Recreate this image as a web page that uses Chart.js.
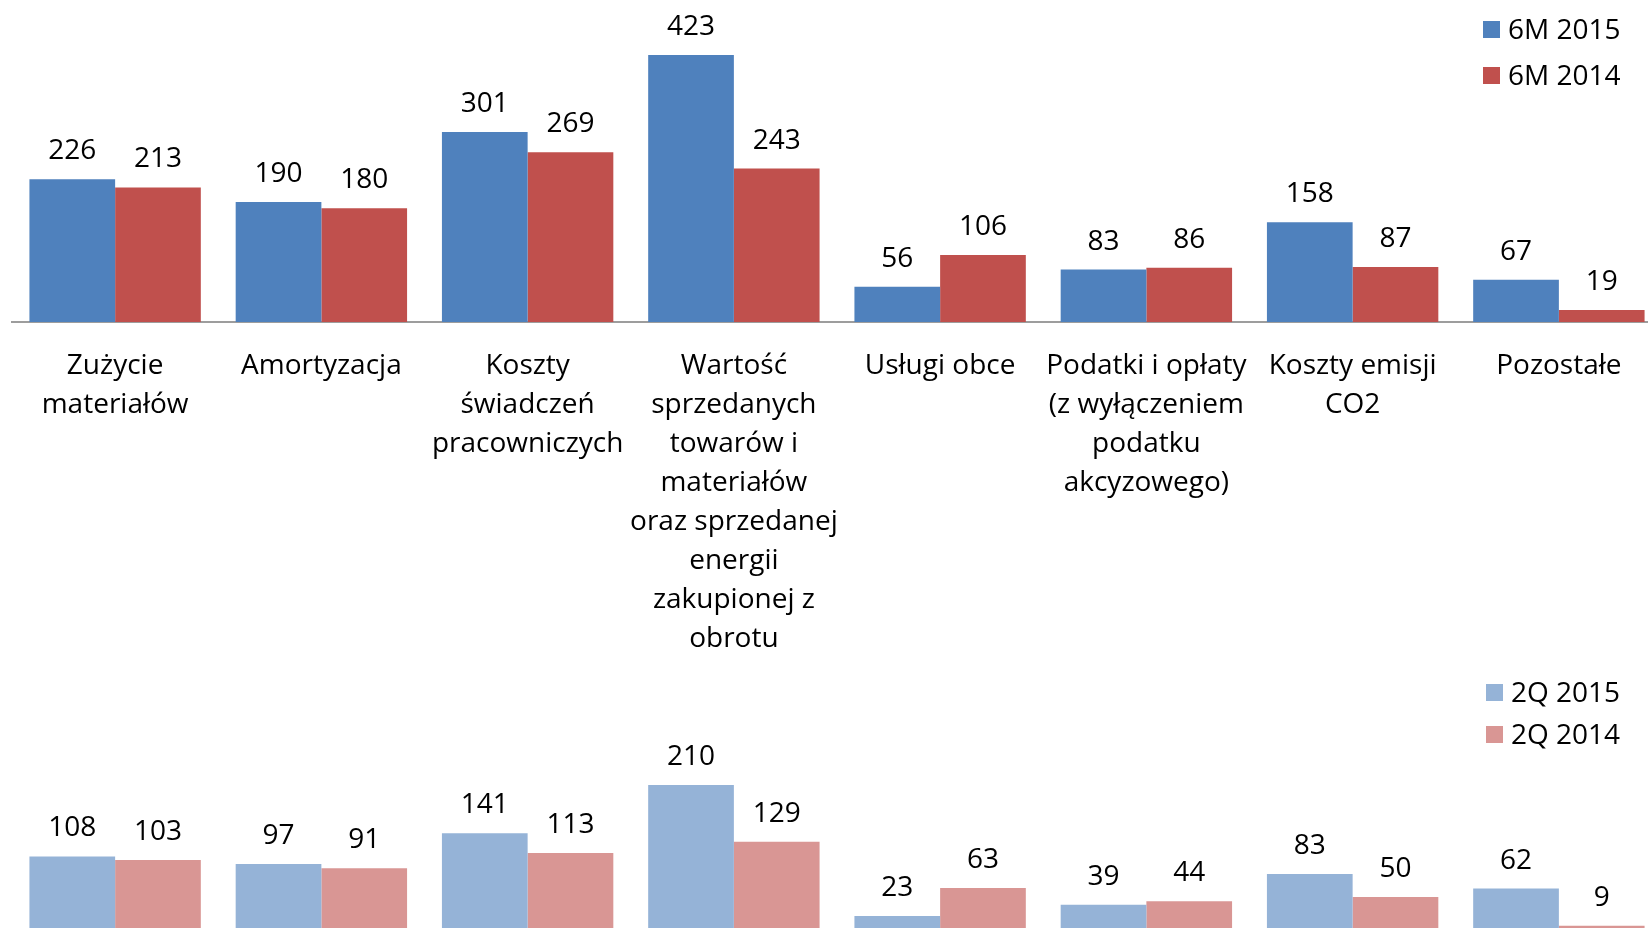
<!DOCTYPE html>
<html lang="pl">
<head>
    <meta charset="UTF-8">
    <title>Koszty</title>
    <script src="https://cdn.jsdelivr.net/npm/chart.js"></script>
    <style>
        body { margin: 0; background: #fff; overflow: hidden; width: 1648px; height: 928px; position: relative; font-family: 'Open Sans', sans-serif; }
        .box { position: absolute; left: 0; }
        .legend { position: absolute; font-size: 28px; color: #000; line-height: 1; }
        .legend div { position: absolute; white-space: nowrap; }
        .legend span { display: inline-block; width: 17px; height: 17px; margin-right: 8px; vertical-align: middle; position: relative; top: -2px; }
    </style>
</head>
<body>
    <div class="box" style="top:0;"><canvas id="top" width="1662" height="680"></canvas></div>
    <div class="box" style="top:650px;"><canvas id="bottom" width="1662" height="282"></canvas></div>

    <!-- legends -->
    <div class="legend" style="left:1483px; top:0;">
        <div style="top:14px;"><span style="background:#4F81BD"></span>6M 2015</div>
        <div style="top:60px;"><span style="background:#C0504D"></span>6M 2014</div>
    </div>
    <div class="legend" style="left:1486px; top:0;">
        <div style="top:677px;"><span style="background:#95B3D7"></span>2Q 2015</div>
        <div style="top:719px;"><span style="background:#D99694"></span>2Q 2014</div>
    </div>

    <script>
        const categories = [
            ['Zużycie', 'materiałów'],
            ['Amortyzacja'],
            ['Koszty', 'świadczeń', 'pracowniczych'],
            ['Wartość', 'sprzedanych', 'towarów i', 'materiałów', 'oraz sprzedanej', 'energii', 'zakupionej z', 'obrotu'],
            ['Usługi obce'],
            ['Podatki i opłaty', '(z wyłączeniem', 'podatku', 'akcyzowego)'],
            ['Koszty emisji', 'CO2'],
            ['Pozostałe']
        ];

        const h1_2015 = [226, 190, 301, 423, 56, 83, 158, 67];
        const h1_2014 = [213, 180, 269, 243, 106, 86, 87, 19];
        const q2_2015 = [108, 97, 141, 210, 23, 39, 83, 62];
        const q2_2014 = [103, 91, 113, 129, 63, 44, 50, 9];

        const font = { family: "'Open Sans', sans-serif", size: 28 };

        // value labels above each bar
        const valueLabels = {
            id: 'valueLabels',
            afterDatasetsDraw(chart) {
                const ctx = chart.ctx;
                ctx.save();
                ctx.font = font.size + 'px ' + font.family;
                ctx.fillStyle = '#000';
                ctx.textAlign = 'center';
                ctx.textBaseline = 'middle';
                chart.data.datasets.forEach((ds, i) => {
                    chart.getDatasetMeta(i).data.forEach((bar, j) => {
                        ctx.fillText(ds.data[j], bar.x, bar.y - 28);
                    });
                });
                ctx.restore();
            }
        };

        // Top chart: 6M
        new Chart(document.getElementById('top'), {
            type: 'bar',
            data: {
                labels: categories,
                datasets: [
                    { label: '6M 2015', data: h1_2015, backgroundColor: '#4F81BD' },
                    { label: '6M 2014', data: h1_2014, backgroundColor: '#C0504D' }
                ]
            },
            options: {
                responsive: false,
                animation: false,
                layout: { padding: { left: 12, top: 0, right: 0, bottom: 0 } },
                datasets: { bar: { categoryPercentage: 0.831, barPercentage: 1 } },
                plugins: { legend: { display: false }, tooltip: { enabled: false } },
                scales: {
                    x: {
                        grid: { display: false },
                        border: { display: true, color: '#9d9d9d', width: 2 },
                        ticks: { color: '#000', padding: 17, maxRotation: 0, autoSkip: false,
                                 font: { family: font.family, size: font.size, lineHeight: '38.9px' } },
                        // the 8-line label would be capped at half the canvas, so fix the axis height
                        afterFit: (scale) => { scale.height = 358; }
                    },
                    y: { display: false, min: 0, max: 510 }
                }
            },
            plugins: [valueLabels]
        });

        // Bottom chart: 2Q (baseline falls just below the picture)
        new Chart(document.getElementById('bottom'), {
            type: 'bar',
            data: {
                labels: categories,
                datasets: [
                    { label: '2Q 2015', data: q2_2015, backgroundColor: '#95B3D7' },
                    { label: '2Q 2014', data: q2_2014, backgroundColor: '#D99694' }
                ]
            },
            options: {
                responsive: false,
                animation: false,
                layout: { padding: { left: 12, top: 0, right: 0, bottom: 0 } },
                datasets: { bar: { categoryPercentage: 0.831, barPercentage: 1 } },
                plugins: { legend: { display: false }, tooltip: { enabled: false } },
                scales: {
                    x: { display: false },
                    y: { display: false, min: 0, max: 403 }
                }
            },
            plugins: [valueLabels]
        });
    </script>
</body>
</html>
